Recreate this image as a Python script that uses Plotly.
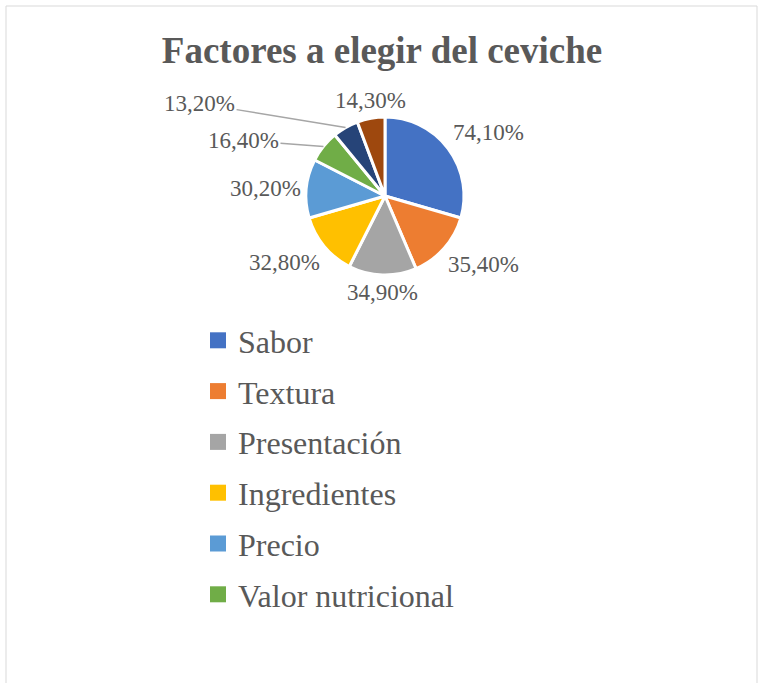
import math
import plotly.graph_objects as go

title = "Factores a elegir del ceviche"
categories = ["Sabor", "Textura", "Presentación", "Ingredientes", "Precio",
              "Valor nutricional", "Otro factor", "Otros"]
values = [74.1, 35.4, 34.9, 32.8, 30.2, 16.4, 13.2, 14.3]
colors = ["#4472C4", "#ED7D31", "#A5A5A5", "#FFC000", "#5B9BD5",
          "#70AD47", "#264478", "#9E480E"]
legend_count = 6  # the reference legend only shows the first six entries

labels_txt = [f"{v:.2f}%".replace(".", ",") for v in values]

# layout / style settings
W, H = 764, 683
cx, cy, r = 385, 196, 79          # pie centre and radius in pixels
label_gap = 3                      # gap between pie edge and label
leader_offsets = {5: (-80, -6), 6: (-146, -24)}   # labels moved away with a leader line
font_family = "Liberation Serif"
grey = "#595959"

fig = go.Figure()
fig.add_trace(go.Pie(
    labels=categories, values=values, text=labels_txt,
    textinfo="none", sort=False, direction="clockwise", rotation=0,
    marker=dict(colors=colors, line=dict(color="white", width=3)),
    showlegend=False, hoverinfo="label+value",
    domain=dict(x=[(cx - r) / W, (cx + r) / W], y=[1 - (cy + r) / H, 1 - (cy - r) / H]),
))
for i in range(legend_count):
    fig.add_trace(go.Scatter(
        x=[None], y=[None], mode="markers", name=categories[i],
        legendgroup=categories[i],
        marker=dict(symbol="square", size=16, color=colors[i]),
    ))

# data labels placed at each slice's mid-angle (derived from the values)
total = sum(values)
annotations = []
cum = 0.0
for i, v in enumerate(values):
    mid = (cum + v / 2) / total * 2 * math.pi
    cum += v
    s, c = math.sin(mid), math.cos(mid)
    font = dict(family=font_family, size=23, color=grey)
    if i in leader_offsets:
        ex, ey = cx + r * s, cy - r * c
        ax, ay = leader_offsets[i]
        annotations.append(dict(
            x=ex / W, y=1 - ey / H, xref="paper", yref="paper",
            text=labels_txt[i], showarrow=True, ax=ax, ay=ay,
            arrowhead=0, arrowwidth=1.5, arrowcolor="#A6A6A6", standoff=0,
            font=font))
    else:
        px, py = cx + (r + label_gap) * s, cy - (r + label_gap) * c
        xa = "left" if s > 0.3 else ("right" if s < -0.3 else "center")
        ya = "bottom" if c > 0.3 else ("top" if c < -0.3 else "middle")
        annotations.append(dict(
            x=px / W, y=1 - py / H, xref="paper", yref="paper",
            text=labels_txt[i], showarrow=False, xanchor=xa, yanchor=ya,
            font=font))

fig.update_layout(
    width=W, height=H, margin=dict(l=0, r=0, t=0, b=0),
    paper_bgcolor="white", plot_bgcolor="white",
    font=dict(family=font_family, color=grey),
    title=dict(text="<b>" + title + "</b>", x=0.5, xanchor="center",
               y=1 - 50 / H, yanchor="middle",
               font=dict(family=font_family, size=37, color=grey)),
    xaxis=dict(visible=False), yaxis=dict(visible=False),
    legend=dict(x=198 / W, xanchor="left", y=1 - 313 / H, yanchor="top",
                font=dict(family=font_family, size=32, color=grey),
                tracegroupgap=6.2, bgcolor="rgba(0,0,0,0)"),
    annotations=annotations,
    shapes=[dict(type="rect", xref="paper", yref="paper",
                 x0=6 / W, x1=757 / W, y0=-0.01, y1=1 - 6 / H,
                 line=dict(color="#D9D9D9", width=1))],
)
fig.write_html("out.html", config={"displayModeBar": False},
               post_script="document.body.style.margin='0px';document.body.style.overflow='hidden';")
